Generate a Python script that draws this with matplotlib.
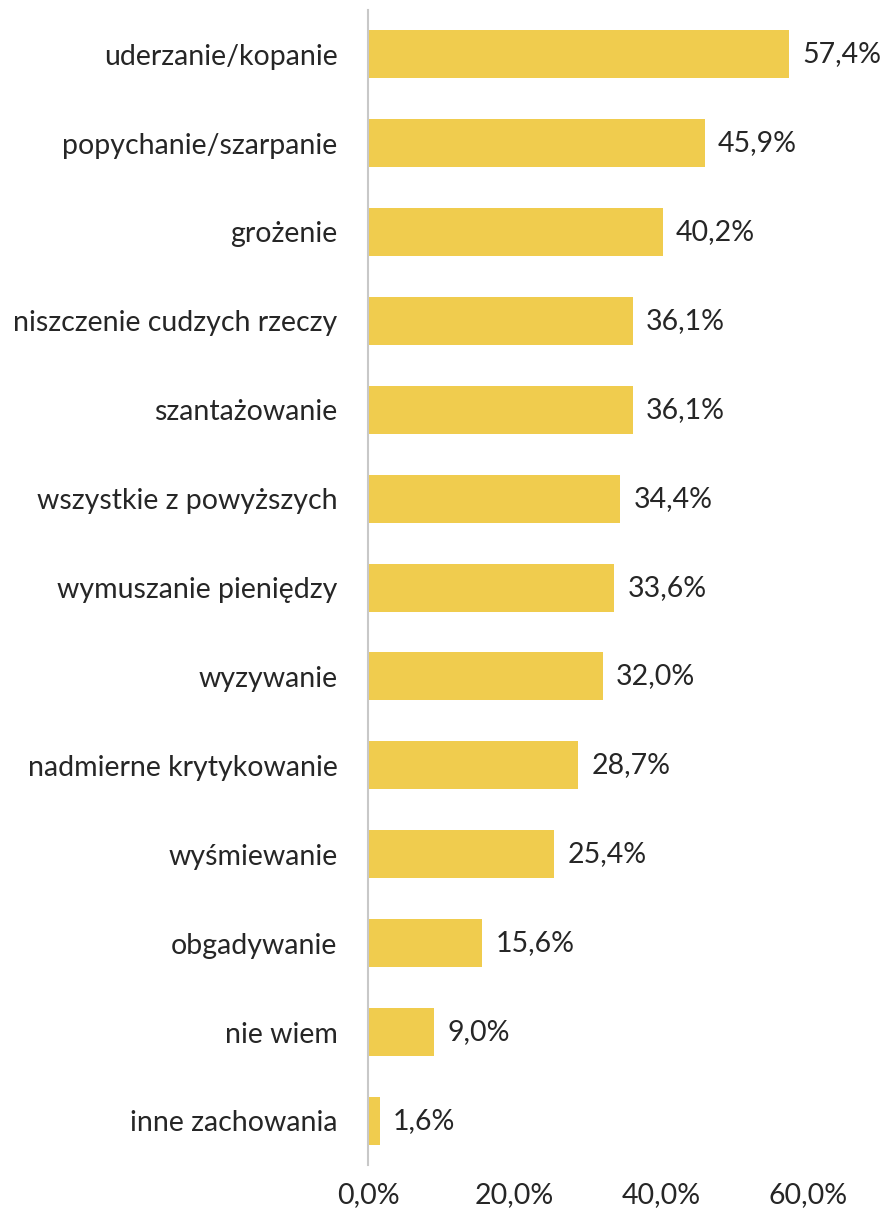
import matplotlib.pyplot as plt

labels = ["uderzanie/kopanie", "popychanie/szarpanie", "grożenie",
          "niszczenie cudzych rzeczy", "szantażowanie", "wszystkie z powyższych",
          "wymuszanie pieniędzy", "wyzywanie", "nadmierne krytykowanie",
          "wyśmiewanie", "obgadywanie", "nie wiem", "inne zachowania"]
values = [57.4, 45.9, 40.2, 36.1, 36.1, 34.4, 33.6, 32.0, 28.7, 25.4, 15.6, 9.0, 1.6]
xticks = [0, 20, 40, 60]

plt.rcParams['font.family'] = ['Lato', 'DejaVu Sans']
fs = 20.5

fig = plt.figure(figsize=(8.81, 12.14), dpi=100)
ax = fig.add_axes([0.4177, 0.04, 0.4994, 0.952])

pos = list(range(len(labels)))[::-1]
ax.barh(pos, values, height=0.54, color='#F0CC4E')
for p, v in zip(pos, values):
    ax.text(v + 1.8, p, f"{v:.1f}%".replace('.', ','), va='center', ha='left',
            fontsize=fs, color='#262626')

ax.set_xlim(0, 60)
ax.set_ylim(-0.5, len(labels) - 0.5)
ax.set_yticks(pos)
ax.set_yticklabels(labels, fontsize=fs, color='#262626')
ax.set_xticks(xticks)
ax.set_xticklabels([f"{t:.1f}%".replace('.', ',') for t in xticks], fontsize=fs, color='#262626')
ax.tick_params(length=0)
ax.tick_params(axis='y', pad=22)
ax.tick_params(axis='x', pad=12)
for s in ['top', 'right', 'bottom']:
    ax.spines[s].set_visible(False)
ax.spines['left'].set_color('#C8C8C8')
ax.spines['left'].set_linewidth(1.5)

fig.savefig('out.png')
plt.close(fig)
